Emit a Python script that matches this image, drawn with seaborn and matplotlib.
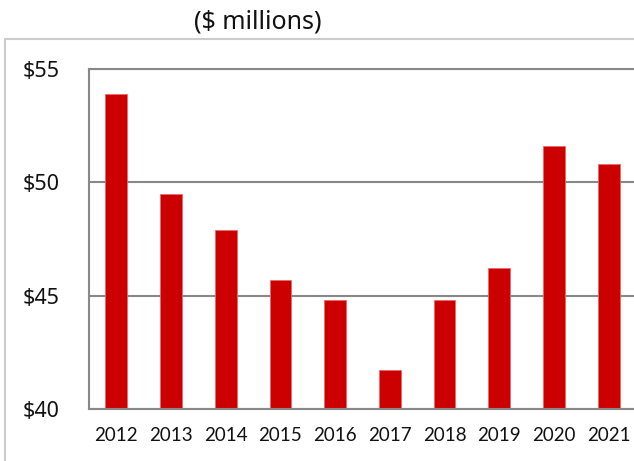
import matplotlib
matplotlib.use("Agg")
import matplotlib.pyplot as plt
import seaborn as sns
import pandas as pd
import numpy as np
from matplotlib.patches import Rectangle

years = ["2012", "2013", "2014", "2015", "2016", "2017", "2018", "2019", "2020", "2021"]
values = [53.9, 49.5, 47.9, 45.7, 44.8, 41.7, 44.8, 46.2, 51.6, 50.8]
y_ticks = [40, 45, 50, 55]
y_labels = ["$40", "$45", "$50", "$55"]
title = "($ millions)"

sns.set_theme(style="white")
plt.rcParams["font.family"] = ["Lato", "DejaVu Sans"]

W, H = 634, 461
fig = plt.figure(figsize=(W / 100, H / 100), dpi=100)
ax = fig.add_axes([89 / W, 52 / H, (636 - 89) / W, (409 - 69) / H])

df = pd.DataFrame({"year": years, "value": values})
sns.barplot(data=df, x="year", y="value", color="#CC0000", saturation=1,
            width=0.4, edgecolor="#e86a6a", linewidth=0.6, ax=ax)

ax.set_ylim(40, 55)
ax.set_xlim(-0.5, len(years) - 0.5)
ax.set_yticks(y_ticks)
ax.set_yticklabels(y_labels, fontsize=15.5, family=["Noto Sans", "DejaVu Sans"], color="#111111")
ax.tick_params(axis="y", length=0, pad=21)
ax.set_xticks(range(len(years)))
ax.set_xticklabels(years, fontsize=13.5, color="#111111")
ax.tick_params(axis="x", which="major", length=0, pad=13)
ax.set_xticks(np.arange(-0.5, len(years), 1.0), minor=True)
ax.tick_params(axis="x", which="minor", length=5, width=1.3, color="#888888", direction="out")
ax.set_xlabel("")
ax.set_ylabel("")

ax.yaxis.grid(True, color="#888888", linewidth=1.5)
ax.set_axisbelow(True)
for s in ["left", "bottom", "top"]:
    ax.spines[s].set_visible(True)
    ax.spines[s].set_color("#888888")
    ax.spines[s].set_linewidth(1.5)
ax.spines["right"].set_visible(False)

fig.add_artist(Rectangle((5 / W, -0.1), 1.2, (H - 39) / H + 0.1, transform=fig.transFigure,
                         fill=False, edgecolor="#cccccc", linewidth=1.5))
fig.text(258 / W, 1 - 22 / H, title, ha="center", va="center", fontsize=18,
         family=["Noto Sans", "DejaVu Sans"], color="#111111")

fig.savefig("out.png", dpi=100)
